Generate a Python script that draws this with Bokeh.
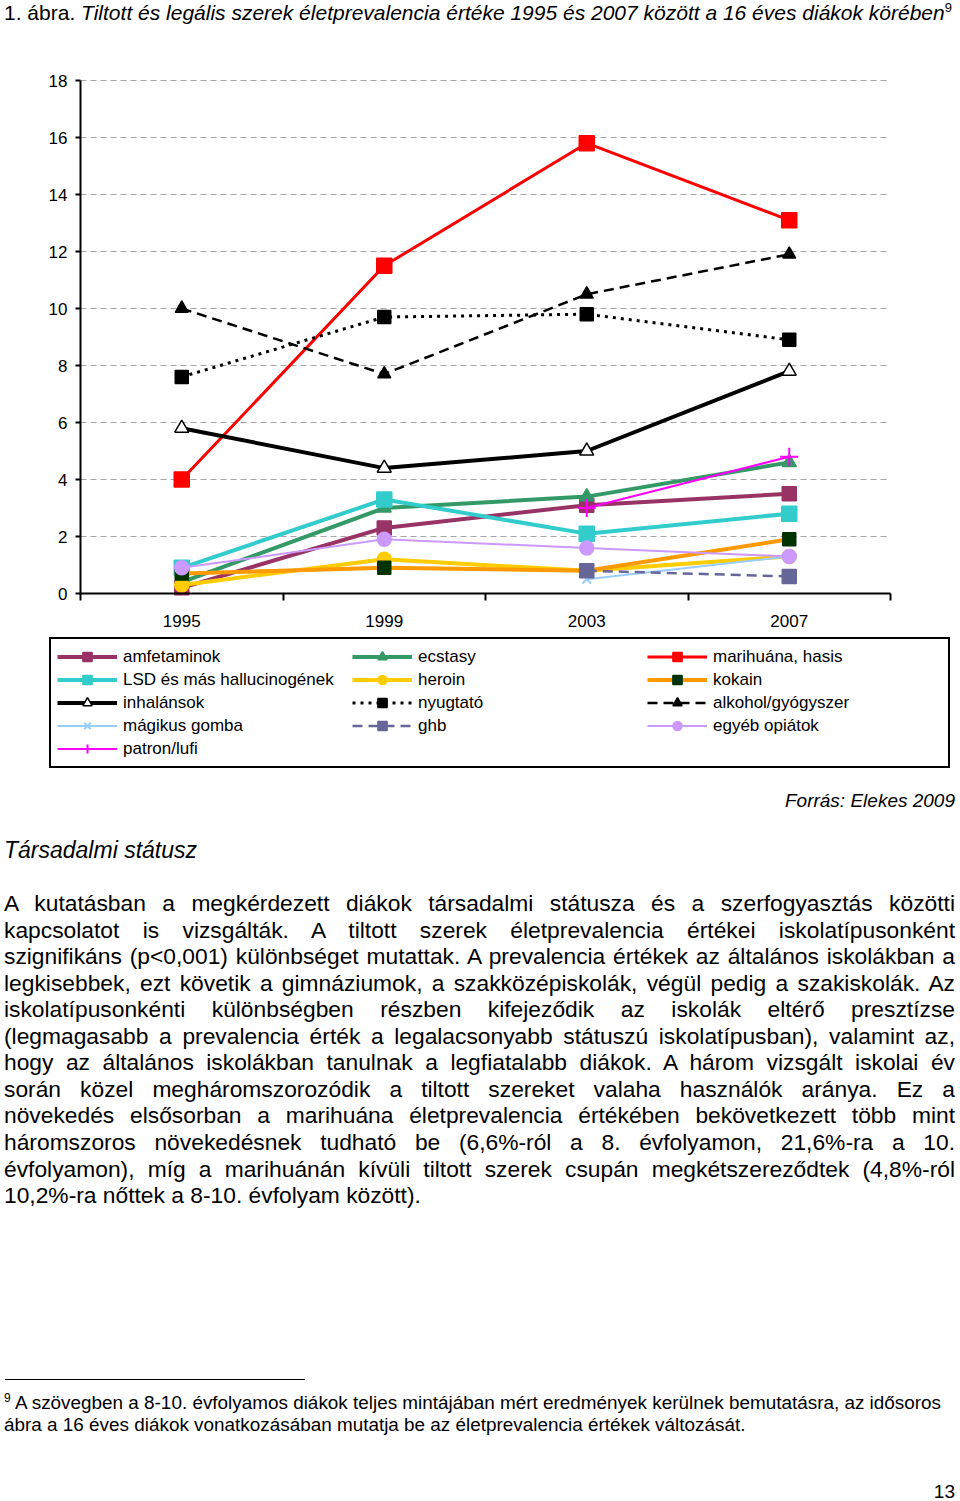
import html
from bokeh.plotting import figure
from bokeh.models import FixedTicker, Legend, LegendItem, Div, Range1d
from bokeh.layouts import column
from bokeh.embed import file_html
from bokeh.resources import INLINE

nan = float("nan")

# ---------------- data ----------------
years = ["1995", "1999", "2003", "2007"]
y_ticks = [0, 2, 4, 6, 8, 10, 12, 14, 16, 18]

amfetaminok = [0.2, 2.3, 3.1, 3.5]
ecstasy = [0.4, 3.0, 3.4, 4.6]
marihuana = [4.0, 11.5, 15.8, 13.1]
lsd = [0.9, 3.3, 2.1, 2.8]
heroin = [0.3, 1.2, 0.8, 1.3]
kokain = [0.7, 0.9, 0.8, 1.9]
inhalansok = [5.8, 4.4, 5.0, 7.8]
nyugtato = [7.6, 9.7, 9.8, 8.9]
alkohol = [10.0, 7.7, 10.5, 11.9]
magikus_gomba = [nan, nan, 0.5, 1.3]
ghb = [nan, nan, 0.8, 0.6]
egyeb_opiatok = [0.9, 1.9, 1.6, 1.3]
patron = [nan, nan, 3.0, 4.8]

series_names = ["amfetaminok", "ecstasy", "marihuána, hasis",
                "LSD és más hallucinogének", "heroin", "kokain",
                "inhalánsok", "nyugtató", "alkohol/gyógyszer",
                "mágikus gomba", "ghb", "egyéb opiátok", "patron/lufi"]
series_values = [amfetaminok, ecstasy, marihuana, lsd, heroin, kokain,
                 inhalansok, nyugtato, alkohol, magikus_gomba, ghb,
                 egyeb_opiatok, patron]

# styles: line colour, line width, dash, marker, marker size, fill, marker line colour
styles = [
    ("#993366", 4, "solid", "square", 14, "#993366", "#993366"),
    ("#339966", 4, "solid", "triangle", 14, "#339966", "#339966"),
    ("#FF0000", 3, "solid", "square", 15, "#FF0000", "#FF0000"),
    ("#33CCCC", 4, "solid", "square", 15, "#33CCCC", "#33CCCC"),
    ("#FFCC00", 4, "solid", "circle", 14, "#FFCC00", "#FFCC00"),
    ("#FF9900", 4, "solid", "square", 13, "#003300", "#003300"),
    ("#000000", 4, "solid", "triangle", 14, "#FFFFFF", "#000000"),
    ("#000000", 3, "3 5", "square", 13, "#000000", "#000000"),
    ("#000000", 2.5, "10 6", "triangle", 13, "#000000", "#000000"),
    ("#99CCFF", 2, "solid", "x", 12, "#99CCFF", "#99CCFF"),
    ("#666699", 2.5, "10 6", "square", 14, "#666699", "#666699"),
    ("#CC99FF", 2, "solid", "circle", 14, "#CC99FF", "#CC99FF"),
    ("#FF00FF", 2, "solid", "cross", 18, "#FF00FF", "#FF00FF"),
]

FONT = "Liberation Sans"
W = 960

# pixel layout of the chart (page coordinates)
TOP = 48                       # figure top on the page
FRAME_L, AXIS_X0, AXIS_X1, FRAME_R = 43, 80, 890, 955
FRAME_T, AXIS_Y_TOP, AXIS_Y0, FRAME_B = 60, 80, 593, 775
Y_MAX = 18
n_cat = len(years)
px_per_cat = (AXIS_X1 - AXIS_X0) / n_cat
px_per_unit = (AXIS_Y0 - AXIS_Y_TOP) / Y_MAX
x_start = -(AXIS_X0 - FRAME_L) / px_per_cat
x_end = n_cat + (FRAME_R - AXIS_X1) / px_per_cat
y_start = -(FRAME_B - AXIS_Y0) / px_per_unit
y_end = Y_MAX + (AXIS_Y_TOP - FRAME_T) / px_per_unit
BOTTOM_BORDER = 43
P_HEIGHT = (FRAME_T - TOP) + (FRAME_B - FRAME_T) + BOTTOM_BORDER

xs = [i + 0.5 for i in range(n_cat)]

# ---------------- chart ----------------
p = figure(width=W, height=P_HEIGHT, x_range=Range1d(x_start, x_end), y_range=Range1d(y_start, y_end),
           output_backend="svg", toolbar_location=None,
           min_border_left=FRAME_L, min_border_right=W - FRAME_R,
           min_border_top=FRAME_T - TOP, min_border_bottom=BOTTOM_BORDER)
p.outline_line_color = None
p.background_fill_color = "white"
p.border_fill_color = "white"
p.xgrid.visible = False
p.ygrid.visible = False

# horizontal dashed gridlines spanning the category area only
grid_vals = [t for t in y_ticks if t > 0]
p.segment(x0=[0] * len(grid_vals), x1=[n_cat] * len(grid_vals), y0=grid_vals, y1=grid_vals,
          line_color="#A6A6A6", line_dash="6 4", line_width=1)

p.yaxis.ticker = FixedTicker(ticks=y_ticks)
p.yaxis.fixed_location = 0
p.yaxis.bounds = (0, Y_MAX)
p.yaxis.axis_line_width = 2
p.yaxis.axis_line_color = "black"
p.yaxis.major_tick_out = 5
p.yaxis.major_tick_in = 0
p.yaxis.major_tick_line_width = 2
p.yaxis.minor_tick_line_color = None
p.yaxis.major_label_standoff = 8
p.yaxis.major_label_text_font = FONT
p.yaxis.major_label_text_font_size = "17px"
p.yaxis.major_label_text_color = "black"

p.xaxis.ticker = FixedTicker(ticks=xs, minor_ticks=list(range(n_cat + 1)))
p.xaxis.fixed_location = 0
p.xaxis.bounds = (0, n_cat)
p.xaxis.major_label_overrides = {x: y for x, y in zip(xs, years)}
p.xaxis.axis_line_width = 2
p.xaxis.axis_line_color = "black"
p.xaxis.major_tick_line_color = None
p.xaxis.major_tick_out = 0
p.xaxis.major_tick_in = 0
p.xaxis.minor_tick_out = 7
p.xaxis.minor_tick_in = 0
p.xaxis.minor_tick_line_width = 2
p.xaxis.minor_tick_line_color = "black"
p.xaxis.major_label_standoff = 14
p.xaxis.major_label_text_font = FONT
p.xaxis.major_label_text_font_size = "17px"
p.xaxis.major_label_text_color = "black"

items = []
for name, vals, st in zip(series_names, series_values, styles):
    lc, lw, dash, marker, ms, fc, mlc = st
    lr = p.line(xs, vals, line_color=lc, line_width=lw, line_dash=dash)
    sr = p.scatter(xs, vals, marker=marker, size=ms, fill_color=fc, line_color=mlc,
                   line_width=1.5 if marker in ("triangle", "square", "circle") else 2)
    items.append(LegendItem(label=name, renderers=[lr, sr]))

# legend box: left edge at page x 49, bottom at page y 768 (inside the frame)
legend = Legend(items=items, location=(49 - FRAME_L, FRAME_B - 768), orientation="horizontal", ncols=3,
                glyph_width=60, glyph_height=23, label_height=18, label_width=229,
                label_standoff=6, spacing=0, padding=6, margin=0,
                border_line_color="black", border_line_width=2, border_line_alpha=1,
                background_fill_color="white", background_fill_alpha=1,
                label_text_font=FONT, label_text_font_size="17px",
                label_text_color="black")
p.add_layout(legend)

# ---------------- texts ----------------
title_html = (
    '<div style="position:relative; left:4px; top:1px; font-family:\'Liberation Sans\', Arial, sans-serif;'
    ' font-size:21px; line-height:24px; white-space:nowrap; color:black;">'
    '1. ábra. <i>Tiltott és legális szerek életprevalencia értéke 1995 és 2007 között a 16 éves diákok körében</i>'
    '<sup style="font-size:13px; vertical-align:super; line-height:0;">9</sup></div>'
)
title_div = Div(text=title_html, width=W, height=TOP, margin=0, styles={"overflow": "visible"})

paragraph_lines = [
    "A kutatásban a megkérdezett diákok társadalmi státusza és a szerfogyasztás közötti",
    "kapcsolatot is vizsgálták. A tiltott szerek életprevalencia értékei iskolatípusonként",
    "szignifikáns (p<0,001) különbséget mutattak. A prevalencia értékek az általános iskolákban a",
    "legkisebbek, ezt követik a gimnáziumok, a szakközépiskolák, végül pedig a szakiskolák. Az",
    "iskolatípusonkénti különbségben részben kifejeződik az iskolák eltérő presztízse",
    "(legmagasabb a prevalencia érték a legalacsonyabb státuszú iskolatípusban), valamint az,",
    "hogy az általános iskolákban tanulnak a legfiatalabb diákok. A három vizsgált iskolai év",
    "során közel megháromszorozódik a tiltott szereket valaha használók aránya. Ez a",
    "növekedés elsősorban a marihuána életprevalencia értékében bekövetkezett több mint",
    "háromszoros növekedésnek tudható be (6,6%-ról a 8. évfolyamon, 21,6%-ra a 10.",
    "évfolyamon), míg a marihuánán kívüli tiltott szerek csupán megkétszereződtek (4,8%-ról",
    "10,2%-ra nőttek a 8-10. évfolyam között).",
]
footnote_lines = [
    "A szövegben a 8-10. évfolyamos diákok teljes mintájában mért eredmények kerülnek bemutatásra, az idősoros",
    "ábra a 16 éves diákok vonatkozásában mutatja be az életprevalencia értékek változását.",
]

DIV_TOP = TOP + P_HEIGHT           # page y where the text block starts
DIV_H = 1498 - DIV_TOP


def t(page_y):
    return page_y - DIV_TOP


ff = "font-family:'Liberation Sans', Arial, sans-serif; color:black;"
parts = ['<div style="position:relative; width:%dpx; height:%dpx; %s">' % (W, DIV_H, ff)]
parts.append('<div style="position:absolute; right:5px; top:%.1fpx; font-size:19px; line-height:22px;'
             ' font-style:italic; white-space:nowrap;">Forrás: Elekes 2009</div>' % t(790))
parts.append('<div style="position:absolute; left:4px; top:%.1fpx; font-size:23px; line-height:26.6px;'
             ' font-style:italic; white-space:nowrap;">Társadalmi státusz</div>' % t(837))
for i, line in enumerate(paragraph_lines):
    last = i == len(paragraph_lines) - 1
    parts.append(
        '<div style="position:absolute; left:4px; top:%.1fpx; width:951px; font-size:22.8px; line-height:26.6px;'
        ' text-align:justify; text-align-last:%s;">%s</div>'
        % (t(890 + i * 26.55), "left" if last else "justify", html.escape(line))
    )
parts.append('<div style="position:absolute; left:5px; top:%.1fpx; width:300px; height:0; border-top:1px solid black;"></div>' % t(1379))
parts.append('<div style="position:absolute; left:4px; top:%.1fpx; font-size:18.9px; line-height:22px; white-space:nowrap;">'
             '<sup style="font-size:12px; line-height:0;">9</sup> %s</div>' % (t(1392), html.escape(footnote_lines[0])))
parts.append('<div style="position:absolute; left:4px; top:%.1fpx; font-size:18.9px; line-height:22px; white-space:nowrap;">%s</div>'
             % (t(1414), html.escape(footnote_lines[1])))
parts.append('<div style="position:absolute; right:5px; top:%.1fpx; font-size:19px; line-height:22px;">13</div>' % t(1481))
parts.append('</div>')
text_div = Div(text="".join(parts), width=W, height=DIV_H, margin=0, styles={"overflow": "visible"})

layout = column(title_div, p, text_div, spacing=0)
open("out.html", "w").write(file_html(layout, INLINE))
